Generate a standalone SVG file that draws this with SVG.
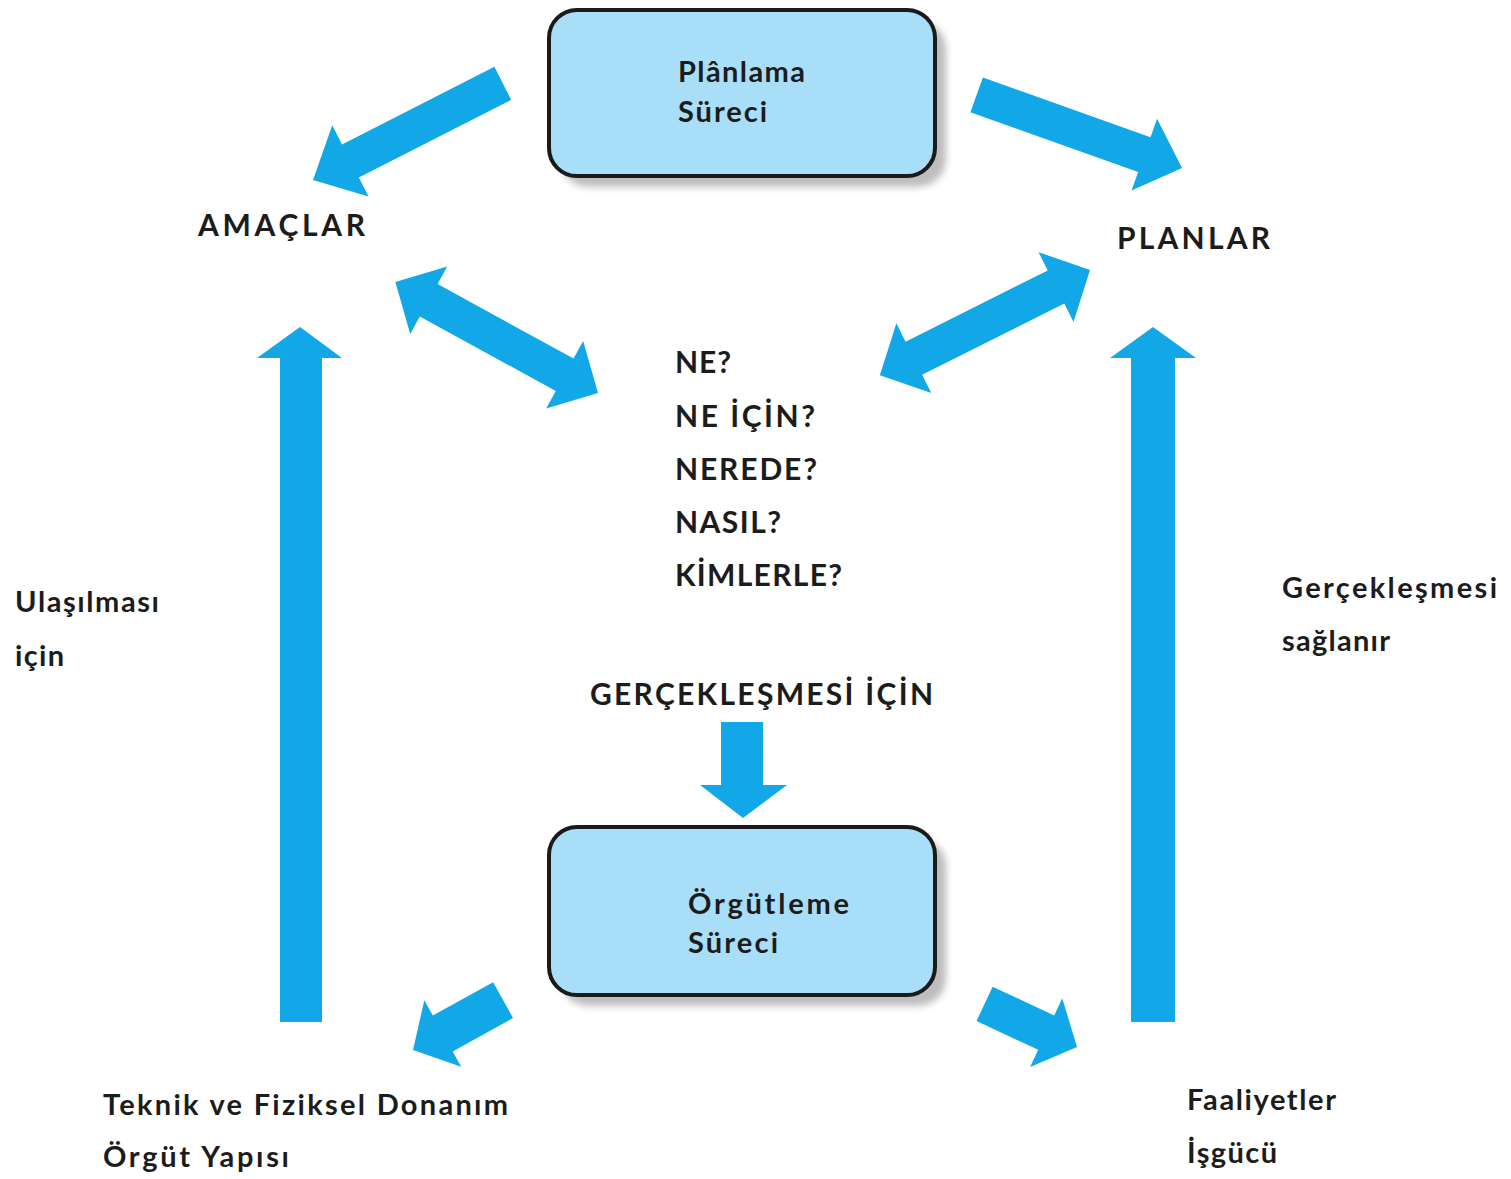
<svg xmlns="http://www.w3.org/2000/svg" width="1511" height="1179" viewBox="0 0 1511 1179">
<defs>
<filter id="blur" x="-10%" y="-10%" width="120%" height="130%"><feGaussianBlur stdDeviation="3.5"/></filter>
<style>
.arr{fill:#12a8e8}
.box{fill:#a9def8;stroke:#1a1a1a;stroke-width:4}
.sh{fill:#bdbdbd;filter:url(#blur)}
.t{font-family:Lato,"Open Sans","DejaVu Sans",sans-serif;font-size:29px;font-weight:700;fill:#1c1c1c}
.c{font-size:30px}
</style>
</defs>
<rect width="1511" height="1179" fill="#ffffff"/>
<g id="connectors">
<polygon class="arr" transform="translate(313,180) rotate(153)" points="-213,-18.5 -42,-18.5 -42,-40 0,0 -42,40 -42,18.5 -213,18.5"/>
<polygon class="arr" transform="translate(1182,168) rotate(19.6)" points="-218,-18.5 -40,-18.5 -40,-38 0,0 -40,38 -40,18.5 -218,18.5"/>
<polygon class="arr" transform="translate(598,393) rotate(28.7)" points="-231,0 -193,-38.5 -193,-18.5 -38,-18.5 -38,-38.5 0,0 -38,38.5 -38,18.5 -193,18.5 -193,38.5"/>
<polygon class="arr" transform="translate(1090,270) rotate(-26.6)" points="-235,0 -197,-39 -197,-18.5 -38,-18.5 -38,-39 0,0 -38,39 -38,18.5 -197,18.5 -197,39"/>
<polygon class="arr" transform="translate(413,1050) rotate(151)" points="-103,-20.5 -34,-20.5 -34,-38 0,0 -34,38 -34,20.5 -103,20.5"/>
<polygon class="arr" transform="translate(1077,1047) rotate(25)" points="-102,-19 -34,-19 -34,-38 0,0 -34,38 -34,19 -102,19"/>
<polygon class="arr" points="280,1022 280,358 257,358 300,327 342,358 322,358 322,1022"/>
<polygon class="arr" points="1131,1022 1131,358 1110,358 1153,327 1196,358 1175,358 1175,1022"/>
<polygon class="arr" points="721,722 763,722 763,785 787,785 743,818 700,785 721,785"/>
</g>
<g id="planlama">
<rect class="sh" x="560" y="21" width="386" height="166" rx="28"/>
<rect class="box" x="549" y="10" width="386" height="166" rx="28"/>
<text class="t" x="678" y="82" textLength="127" lengthAdjust="spacing">Plânlama</text>
<text class="t" x="678" y="122" textLength="89" lengthAdjust="spacing">Süreci</text>
</g>
<g id="orgutleme">
<rect class="sh" x="560" y="838" width="386" height="168" rx="28"/>
<rect class="box" x="549" y="827" width="386" height="168" rx="28"/>
<text class="t" x="688" y="914" textLength="161" lengthAdjust="spacing">Örgütleme</text>
<text class="t" x="688" y="953" textLength="90" lengthAdjust="spacing">Süreci</text>
</g>
<g id="amaclar"><text class="t c" x="198" y="236" textLength="167" lengthAdjust="spacing">AMAÇLAR</text></g>
<g id="planlar"><text class="t c" x="1117" y="249" textLength="153" lengthAdjust="spacing">PLANLAR</text></g>
<g id="sorular">
<text class="t c" x="675" y="373" textLength="56" lengthAdjust="spacing">NE?</text>
<text class="t c" x="675" y="427" textLength="140" lengthAdjust="spacing">NE İÇİN?</text>
<text class="t c" x="675" y="480" textLength="142" lengthAdjust="spacing">NEREDE?</text>
<text class="t c" x="675" y="533" textLength="106" lengthAdjust="spacing">NASIL?</text>
<text class="t c" x="675" y="586" textLength="167" lengthAdjust="spacing">KİMLERLE?</text>
</g>
<g id="gerceklesmesi-icin"><text class="t c" x="590" y="705" textLength="343" lengthAdjust="spacing">GERÇEKLEŞMESİ İÇİN</text></g>
<g id="ulasilmasi">
<text class="t" x="15" y="612" textLength="144" lengthAdjust="spacing">Ulaşılması</text>
<text class="t" x="15" y="666" textLength="49" lengthAdjust="spacing">için</text>
</g>
<g id="saglanir">
<text class="t" x="1282" y="598" textLength="215" lengthAdjust="spacing">Gerçekleşmesi</text>
<text class="t" x="1282" y="651" textLength="108" lengthAdjust="spacing">sağlanır</text>
</g>
<g id="donanim">
<text class="t" x="103" y="1115" textLength="405" lengthAdjust="spacing">Teknik ve Fiziksel Donanım</text>
<text class="t" x="103" y="1167" textLength="186" lengthAdjust="spacing">Örgüt Yapısı</text>
</g>
<g id="faaliyetler">
<text class="t" x="1187" y="1110" textLength="149" lengthAdjust="spacing">Faaliyetler</text>
<text class="t" x="1187" y="1163" textLength="90" lengthAdjust="spacing">İşgücü</text>
</g>
</svg>
